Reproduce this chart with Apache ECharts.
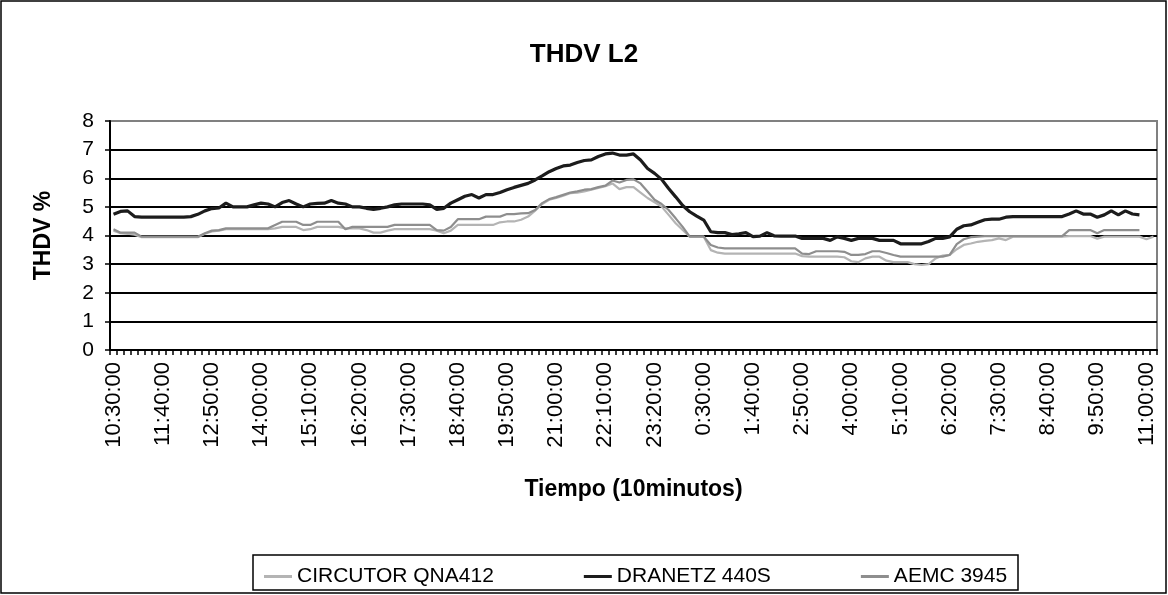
<!DOCTYPE html>
<html>
<head>
<meta charset="utf-8">
<script src="https://cdn.jsdelivr.net/npm/echarts@6/dist/echarts.min.js"></script>
<style>
  html, body { margin: 0; padding: 0; background: #fff; }
  #chart { width: 1168px; height: 595px; }
</style>
</head>
<body>
<div id="chart"></div>
<script>
// time of day every 10 minutes, 10:30:00 -> 11:10:00 next day
const startMinute = 10 * 60 + 30;
const stepMinutes = 10;
const pointCount = 149;
const times = [];
for (let i = 0; i < pointCount; i++) {
  const m = (startMinute + i * stepMinutes) % 1440;
  times.push(Math.floor(m / 60) + ":" + String(m % 60).padStart(2, "0") + ":00");
}

const yTicks = [0, 1, 2, 3, 4, 5, 6, 7, 8];
const seriesNames = ["CIRCUTOR QNA412", "DRANETZ 440S", "AEMC 3945"];

const circutor = [
  4.17, 4.08, 4.06, 4.03, 3.94, 3.94, 3.94, 3.94, 3.94, 3.94,
  3.94, 3.94, 3.94, 4.06, 4.14, 4.17, 4.22, 4.22, 4.22, 4.22,
  4.22, 4.22, 4.22, 4.25, 4.3, 4.3, 4.3, 4.19, 4.22, 4.3,
  4.3, 4.3, 4.3, 4.25, 4.25, 4.25, 4.19, 4.1, 4.1, 4.17,
  4.22, 4.22, 4.22, 4.22, 4.22, 4.22, 4.17, 4.08, 4.17, 4.37,
  4.37, 4.37, 4.37, 4.37, 4.37, 4.46, 4.49, 4.49, 4.55, 4.66,
  4.87, 5.1, 5.25, 5.31, 5.39, 5.48, 5.5, 5.54, 5.6, 5.66,
  5.72, 5.82, 5.62, 5.69, 5.69, 5.5, 5.31, 5.16, 5.01, 4.72,
  4.43, 4.19, 3.96, 3.96, 3.96, 3.49, 3.4, 3.37, 3.37, 3.37,
  3.37, 3.37, 3.37, 3.37, 3.37, 3.37, 3.37, 3.37, 3.28, 3.26,
  3.26, 3.26, 3.26, 3.26, 3.24, 3.1, 3.07, 3.2, 3.26, 3.26,
  3.12, 3.07, 3.07, 3.07, 3.0, 2.97, 3.0, 3.2, 3.3, 3.32,
  3.52, 3.67, 3.72, 3.78, 3.81, 3.84, 3.9, 3.84, 3.96, 3.96,
  3.96, 3.96, 3.96, 3.96, 3.96, 3.96, 3.98, 3.98, 3.98, 3.98,
  3.89, 3.96, 3.96, 3.96, 3.96, 3.96, 3.96, 3.87, 3.96
];

const dranetz = [
  4.74, 4.84, 4.86, 4.66, 4.64, 4.64, 4.64, 4.64, 4.64, 4.64,
  4.64, 4.66, 4.74, 4.86, 4.94, 4.96, 5.13, 5.0, 5.0, 5.0,
  5.07, 5.13, 5.1, 5.0, 5.15, 5.22, 5.1, 5.0, 5.1, 5.12,
  5.13, 5.22, 5.13, 5.1, 5.0, 5.0, 4.95, 4.91, 4.95, 5.0,
  5.07, 5.1, 5.1, 5.1, 5.1, 5.07, 4.91, 4.95, 5.13, 5.25,
  5.37, 5.43, 5.31, 5.43, 5.43, 5.5, 5.6, 5.68, 5.75, 5.82,
  5.94, 6.08, 6.23, 6.34, 6.43, 6.46, 6.55, 6.62, 6.64, 6.76,
  6.85, 6.88, 6.81, 6.81, 6.85, 6.64, 6.34, 6.17, 5.96, 5.64,
  5.35, 5.05, 4.83, 4.68, 4.54, 4.13, 4.1, 4.1, 4.03, 4.06,
  4.1, 3.96, 3.98, 4.1, 3.99, 3.98, 3.98, 3.98, 3.9, 3.9,
  3.9, 3.9, 3.83, 3.95, 3.9, 3.83, 3.9, 3.9, 3.9, 3.83,
  3.83, 3.83, 3.71, 3.71, 3.71, 3.71, 3.79, 3.9, 3.9, 3.95,
  4.22, 4.34, 4.37, 4.46, 4.55, 4.57, 4.57, 4.64, 4.66, 4.66,
  4.66, 4.66, 4.66, 4.66, 4.66, 4.66, 4.75, 4.86, 4.75, 4.75,
  4.64, 4.72, 4.86, 4.72, 4.86, 4.75, 4.72
];

const aemc = [
  4.22, 4.1, 4.1, 4.1, 3.96, 3.96, 3.96, 3.96, 3.96, 3.96,
  3.96, 3.96, 3.96, 4.08, 4.17, 4.19, 4.25, 4.25, 4.25, 4.25,
  4.25, 4.25, 4.25, 4.37, 4.48, 4.48, 4.48, 4.37, 4.37, 4.48,
  4.48, 4.48, 4.48, 4.22, 4.3, 4.3, 4.3, 4.3, 4.3, 4.3,
  4.37, 4.37, 4.37, 4.37, 4.37, 4.37, 4.19, 4.17, 4.3, 4.57,
  4.57, 4.57, 4.57, 4.66, 4.66, 4.66, 4.75, 4.75, 4.77, 4.78,
  4.89, 5.13, 5.27, 5.34, 5.42, 5.5, 5.54, 5.6, 5.62, 5.69,
  5.74, 5.92, 5.85, 5.94, 5.96, 5.82, 5.54, 5.25, 5.1, 4.89,
  4.6, 4.3, 3.96, 3.96, 3.96, 3.67, 3.58, 3.55, 3.55, 3.55,
  3.55, 3.55, 3.55, 3.55, 3.55, 3.55, 3.55, 3.55, 3.37, 3.35,
  3.45, 3.45, 3.45, 3.45, 3.43, 3.32, 3.32, 3.35, 3.45, 3.45,
  3.39, 3.32, 3.26, 3.26, 3.26, 3.26, 3.26, 3.26, 3.26, 3.32,
  3.7, 3.87, 3.94, 3.96, 3.98, 3.98, 3.98, 3.98, 3.98, 3.98,
  3.98, 3.98, 3.98, 3.98, 3.98, 3.98, 4.19, 4.19, 4.19, 4.19,
  4.08, 4.19, 4.19, 4.19, 4.19, 4.19, 4.19
];

const font = "'Liberation Sans', Arial, sans-serif";
const chart = echarts.init(document.getElementById("chart"));

chart.setOption({
  animation: false,
  backgroundColor: "#fff",
  textStyle: { fontFamily: font, color: "#000" },
  title: {
    text: "THDV L2",
    left: "center",
    top: 37,
    textStyle: { fontFamily: font, fontSize: 26, fontWeight: "bold", color: "#000" },
  },
  graphic: [
    {
      type: "rect",
      shape: { x: 1, y: 1, width: 1165, height: 592 },
      style: { fill: "none", stroke: "#000", lineWidth: 1.5 },
      silent: true,
    },
    {
      type: "rect",
      shape: { x: 253, y: 555, width: 765, height: 35 },
      style: { fill: "none", stroke: "#000", lineWidth: 1.5 },
      silent: true,
    },
  ],
  legend: {
    data: seriesNames,
    left: 259,
    top: 561,
    icon: "rect",
    itemWidth: 28,
    itemHeight: 3,
    itemGap: 90,
    textStyle: { fontFamily: font, fontSize: 21, color: "#000", padding: [0, 0, 0, 0] },
  },
  grid: {
    left: 110,
    right: 11,
    top: 121,
    bottom: 245,
    show: true,
    borderColor: "#808080",
    borderWidth: 2,
  },
  xAxis: {
    type: "category",
    data: times,
    boundaryGap: true,
    name: "Tiempo (10minutos)",
    nameLocation: "middle",
    nameGap: 128,
    nameTextStyle: { fontFamily: font, fontSize: 23, fontWeight: "bold", color: "#000" },
    axisLine: { lineStyle: { color: "#000", width: 2 } },
    axisTick: { show: true, interval: 0, length: 5, lineStyle: { color: "#000", width: 1.5 } },
    axisLabel: {
      interval: 6,
      rotate: 90,
      margin: 12,
      fontSize: 22,
      fontFamily: font,
      color: "#000",
    },
    splitLine: { show: false },
  },
  yAxis: {
    type: "value",
    min: 0,
    max: 8,
    interval: 1,
    name: "THDV %",
    nameLocation: "middle",
    nameGap: 55,
    nameRotate: 90,
    nameTextStyle: { fontFamily: font, fontSize: 23, fontWeight: "bold", color: "#000" },
    axisLine: { show: true, lineStyle: { color: "#000", width: 2 } },
    axisTick: { show: true, length: 5, lineStyle: { color: "#000", width: 1.5 } },
    axisLabel: {
      margin: 16,
      fontSize: 21,
      fontFamily: font,
      color: "#000",
      formatter: (v) => (yTicks.includes(v) ? String(v) : ""),
    },
    splitLine: { show: true, showMaxLine: false, lineStyle: { color: "#000", width: 1.8 } },
  },
  series: [
    {
      name: seriesNames[0],
      type: "line",
      data: circutor,
      symbol: "none",
      lineStyle: { color: "#b4b4b4", width: 2.2 },
      itemStyle: { color: "#b4b4b4" },
    },
    {
      name: seriesNames[1],
      type: "line",
      data: dranetz,
      symbol: "none",
      lineStyle: { color: "#1c1c1c", width: 3.2 },
      itemStyle: { color: "#1c1c1c" },
    },
    {
      name: seriesNames[2],
      type: "line",
      data: aemc,
      symbol: "none",
      lineStyle: { color: "#8e8e8e", width: 2.2 },
      itemStyle: { color: "#8e8e8e" },
    },
  ],
});
</script>
</body>
</html>
